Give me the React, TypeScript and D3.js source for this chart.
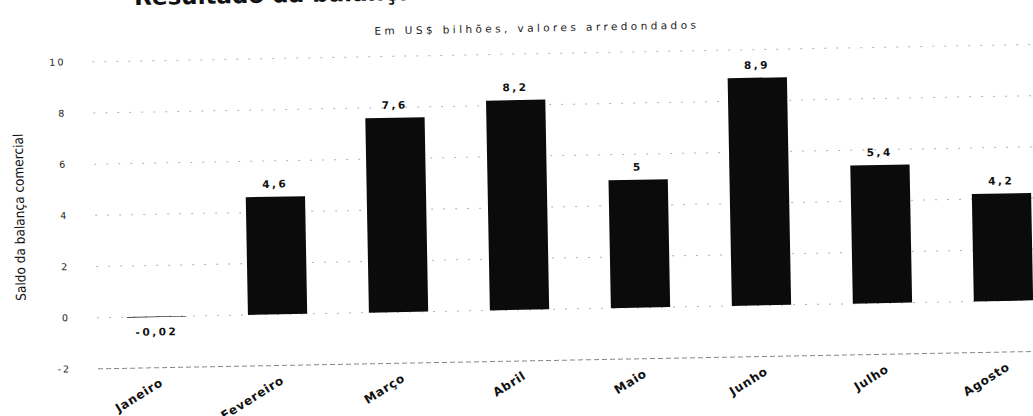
import { useRef, useEffect } from "react";
import * as d3 from "d3";

const months = ["Janeiro", "Fevereiro", "Março", "Abril", "Maio", "Junho", "Julho", "Agosto"];
const saldo = [-0.02, 4.6, 7.6, 8.2, 5, 8.9, 5.4, 4.2];
const valueLabels = ["-0,02", "4,6", "7,6", "8,2", "5", "8,9", "5,4", "4,2"];
const yTicks = [-2, 0, 2, 4, 6, 8, 10];

export default function App() {
  const ref = useRef<SVGSVGElement>(null);

  function init() {
    const settings = { width: 1033, height: 416, pivot: [520, 200], angle: -1.06 };

    const x = d3.scaleBand<string>().domain(months).range([94, 1062]).paddingInner(0.51).paddingOuter(0.255);
    const y = d3.scaleLinear().domain([-2, 10]).range([361, 54]);

    const svg = d3.select(ref.current);
    svg.selectAll("*").remove();

    const g = svg
      .append("g")
      .attr("transform", `rotate(${settings.angle},${settings.pivot[0]},${settings.pivot[1]})`);

    // title, mostly cut off at the top of the photo
    g.append("text")
      .attr("x", 138)
      .attr("y", -2)
      .attr("font-family", "DejaVu Sans")
      .attr("font-weight", "bold")
      .attr("font-size", 23)
      .attr("fill", "#111")
      .text("Resultado da balança comercial");

    g.append("text")
      .attr("x", 540)
      .attr("y", 32)
      .attr("text-anchor", "middle")
      .attr("font-family", "DejaVu Sans")
      .attr("font-size", 10.5)
      .attr("letter-spacing", 3.4)
      .attr("fill", "#222")
      .text("Em US$ bilhões, valores arredondados");

    // grid
    g.append("g")
      .selectAll("line")
      .data(yTicks)
      .join("line")
      .attr("x1", 95)
      .attr("x2", 1100)
      .attr("y1", (d) => y(d))
      .attr("y2", (d) => y(d))
      .attr("stroke", (d) => (d === -2 ? "#888" : "#b0b0b0"))
      .attr("stroke-width", 1)
      .attr("stroke-dasharray", (d) => (d === -2 ? "5,3" : "2,10"));

    // y ticks
    g.append("g")
      .selectAll("text")
      .data(yTicks)
      .join("text")
      .attr("x", 68)
      .attr("y", (d) => y(d) + 3)
      .attr("text-anchor", "end")
      .attr("font-family", "DejaVu Sans")
      .attr("font-size", 9.5)
      .attr("letter-spacing", 2)
      .attr("fill", "#222")
      .text((d) => d);

    g.append("text")
      .attr("transform", "translate(24,208) rotate(-90)")
      .attr("text-anchor", "middle")
      .attr("font-family", "Liberation Sans Narrow, DejaVu Sans Condensed, sans-serif")
      .attr("font-size", 13.5)
      .attr("fill", "#111")
      .text("Saldo da balança comercial");

    // bars
    g.append("g")
      .selectAll("rect")
      .data(saldo)
      .join("rect")
      .attr("x", (d, i) => x(months[i])!)
      .attr("width", x.bandwidth())
      .attr("y", (d) => y(Math.max(0, d)))
      .attr("height", (d) => Math.abs(y(d) - y(0)))
      .attr("fill", "#0b0b0b");

    g.append("g")
      .selectAll("text")
      .data(saldo)
      .join("text")
      .attr("x", (d, i) => x(months[i])! + x.bandwidth() / 2)
      .attr("y", (d) => (d < 0 ? y(0) + 19 : y(d) - 9))
      .attr("text-anchor", "middle")
      .attr("font-family", "DejaVu Sans")
      .attr("font-weight", "bold")
      .attr("font-size", 10.5)
      .attr("letter-spacing", 2.5)
      .attr("fill", "#111")
      .text((d, i) => valueLabels[i]);

    // x labels
    g.append("g")
      .selectAll("text")
      .data(months)
      .join("text")
      .attr("transform", (d) => `translate(${x(d)! + x.bandwidth() / 2 + 6},378) rotate(-31)`)
      .attr("text-anchor", "end")
      .attr("font-family", "DejaVu Sans")
      .attr("font-weight", 600)
      .attr("font-size", 12)
      .attr("letter-spacing", 0.8)
      .attr("fill", "#111")
      .text((d) => d);
  }

  useEffect(init, []);
  return (
    <svg
      ref={ref}
      width={1033}
      height={416}
      style={{ position: "absolute", left: 0, top: 0, background: "#fff" }}
    ></svg>
  );
}
